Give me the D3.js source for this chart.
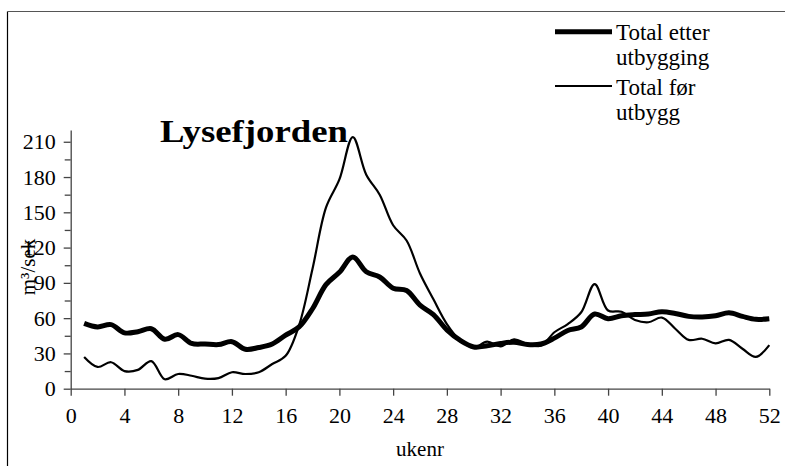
<!DOCTYPE html>
<html>
<head>
<meta charset="utf-8">
<script src="https://cdn.jsdelivr.net/npm/d3@7"></script>
<style>
  html, body { margin: 0; padding: 0; background: #fff; }
  svg { display: block; }
  text { font-family: "Liberation Serif", "Times New Roman", serif; fill: #000; }
</style>
</head>
<body>
<div id="chart"></div>
<script>
// ---- data ----
const weeks = d3.range(1, 53);
const totalEtter = [55.5, 52.5, 54.5, 47.5, 48.5, 51, 42, 46, 38.5, 38, 37.5, 40, 33.5, 35, 38, 45.5,
  52.5, 68, 88.5, 99, 112, 99.5, 95, 85.5, 83.5, 71, 63, 50, 41, 35.5, 36.5, 38.5, 39.5, 37.5, 38, 43,
  49.5, 52.5, 63.5, 59.5, 62, 63, 63.5, 65.5, 64, 61.5, 61, 62, 64.5, 61.5, 59, 59.5];
const totalFor = [27, 18.5, 22.5, 15, 16, 23.5, 8, 12.5, 11, 8.5, 9, 14, 12.5, 14, 21, 28,
  54, 102, 154, 178, 214, 182, 165, 139, 126, 98, 76, 55, 41, 35, 40, 36, 42, 38, 36.5, 48,
  55, 65, 89, 66.5, 65.5, 58.5, 56.5, 60.5, 51, 41.5, 42.5, 38.5, 41.5, 34, 27, 37];
const xTicks = d3.range(0, 53, 4);
const yTicks = d3.range(0, 211, 30);
const yMinorTicks = d3.range(15, 211, 30);
const seriesNames = ["Total etter utbygging", "Total før utbygg"];
const titleText = "Lysefjorden";
const xLabel = "ukenr";
const yLabel = "m³/sek";

// ---- layout ----
const W = 785, H = 466;
const svg = d3.select("#chart").append("svg").attr("width", W).attr("height", H);

// outer frame
svg.append("line").attr("x1", 7.5).attr("x2", 7.5).attr("y1", 11.5).attr("y2", H + 5)
  .attr("stroke", "#000").attr("stroke-width", 1.2);
svg.append("line").attr("x1", 7.5).attr("x2", W + 5).attr("y1", 11.5).attr("y2", 11.5)
  .attr("stroke", "#555").attr("stroke-width", 1.2);

const x = d3.scaleLinear().domain([0, 52]).range([70.7, 769.3]);
const y = d3.scaleLinear().domain([0, 220]).range([388.7, 130]);

// y axis
const yAxis = svg.append("g").attr("transform", `translate(${x(0)},0)`)
  .call(d3.axisLeft(y).tickValues(yTicks).tickSize(7).tickSizeOuter(0).tickPadding(8).tickFormat(d3.format("d")));
svg.append("g").attr("transform", `translate(${x(0)},0)`)
  .call(d3.axisLeft(y).tickValues(yMinorTicks).tickSize(6).tickSizeOuter(0).tickFormat(""))
  .select(".domain").remove();

// x axis
const xAxis = svg.append("g").attr("transform", `translate(0,${y(0)})`)
  .call(d3.axisBottom(x).tickValues(xTicks).tickSize(7).tickSizeOuter(0).tickPadding(12).tickFormat(d3.format("d")));

svg.selectAll(".domain").attr("stroke", "#444").attr("stroke-width", 1.3);
svg.selectAll(".tick line").attr("stroke", "#444").attr("stroke-width", 1.3);
svg.selectAll(".tick text").style("font-family", '"Liberation Serif", "Times New Roman", serif')
  .style("font-size", "22px").attr("fill", "#000");

// lines
const lineEtter = d3.line().x((d, i) => x(weeks[i])).y(d => y(d)).curve(d3.curveCatmullRom.alpha(0.5));
svg.append("path").datum(totalFor).attr("d", lineEtter)
  .attr("fill", "none").attr("stroke", "#000").attr("stroke-width", 2.2);
svg.append("path").datum(totalEtter).attr("d", lineEtter)
  .attr("fill", "none").attr("stroke", "#000").attr("stroke-width", 5);

// title
svg.append("text").attr("x", 160).attr("y", 141.5).text(titleText)
  .style("font-size", "31px").style("font-weight", "bold")
  .attr("textLength", 188).attr("lengthAdjust", "spacingAndGlyphs");

// axis labels
svg.append("text").attr("x", 420).attr("y", 456).attr("text-anchor", "middle")
  .style("font-size", "21px").text(xLabel);
svg.append("text").attr("transform", "translate(35,267) rotate(-90)").attr("text-anchor", "middle")
  .style("font-size", "21px").text(yLabel);

// legend
const legend = svg.append("g");
const legItems = [
  { lines: ["Total etter", "utbygging"], w: 5, ly: 31.7, ty: 40 },
  { lines: ["Total før", "utbygg"], w: 2.2, ly: 86, ty: 95 }
];
legItems.forEach((it, i) => {
  legend.append("line").attr("x1", 555).attr("x2", 612).attr("y1", it.ly).attr("y2", it.ly)
    .attr("stroke", "#000").attr("stroke-width", it.w);
  it.lines.forEach((t, j) => {
    legend.append("text").attr("x", 616).attr("y", it.ty + j * 24.5)
      .style("font-size", "23px").text(t);
  });
});
</script>
</body>
</html>
